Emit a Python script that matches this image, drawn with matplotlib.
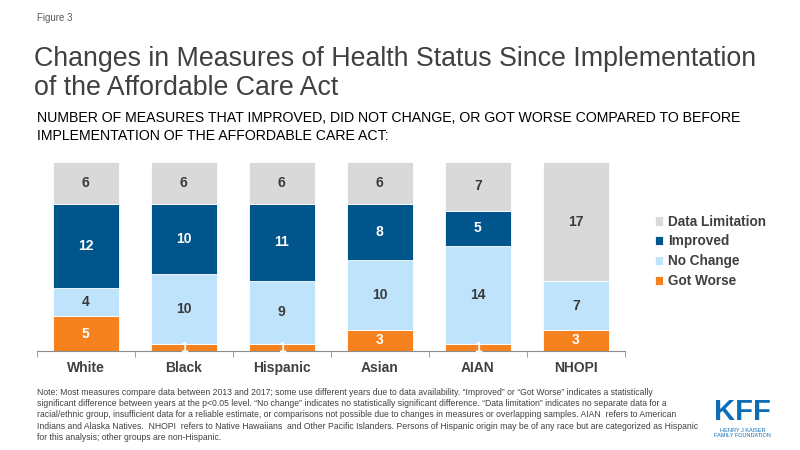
import matplotlib.pyplot as plt
import numpy as np

groups = ["White", "Black", "Hispanic", "Asian", "AIAN", "NHOPI"]
got_worse = [5, 1, 1, 3, 1, 3]
no_change = [4, 10, 9, 10, 14, 7]
improved = [12, 10, 11, 8, 5, 0]
data_limitation = [6, 6, 6, 6, 7, 17]

series = [
    ("Got Worse", got_worse, "#F5821F", "white"),
    ("No Change", no_change, "#BFE3FB", "#3A3A3A"),
    ("Improved", improved, "#00558C", "white"),
    ("Data Limitation", data_limitation, "#D9D9D9", "#3A3A3A"),
]

FONT = "Liberation Sans"

fig = plt.figure(figsize=(8, 4.5), dpi=100)
ax = fig.add_axes([0.046, 0.22, 0.735, 0.42])

x = np.arange(len(groups))
bottom = np.zeros(len(groups))
handles = []
for name, vals, color, tcolor in series:
    vals = np.array(vals, dtype=float)
    b = ax.bar(x, vals, 0.67, bottom=bottom, color=color, edgecolor="white", linewidth=0.6, label=name)
    handles.append(b)
    for xi, v, bt in zip(x, vals, bottom):
        if v > 0:
            ax.text(xi, bt + v / 2, f"{int(v)}", ha="center", va="center", color=tcolor,
                    fontsize=10, fontweight="bold", family=FONT)
    bottom += vals

ax.set_xlim(-0.5, len(groups) - 0.5)
ax.set_ylim(0, 27)
ax.set_yticks([])
for s in ["top", "right", "left"]:
    ax.spines[s].set_visible(False)
ax.spines["bottom"].set_color("#8C8C8C")
ax.set_xticks(x)
ax.set_xticklabels(groups, fontsize=10, fontweight="bold", color="#404040", family=FONT)
ax.tick_params(axis="x", length=0, pad=7)
ax.set_xticks(np.arange(len(groups) + 1) - 0.5, minor=True)
ax.tick_params(axis="x", which="minor", length=4, color="#8C8C8C")

leg = fig.legend(handles[::-1], [h.get_label() for h in handles[::-1]], loc="upper left",
                 bbox_to_anchor=(0.803, 0.55), frameon=False, handlelength=0.65, handleheight=0.65,
                 handletextpad=0.35, labelspacing=0.42,
                 prop={"family": FONT, "weight": "bold", "size": 9.8})
for t in leg.get_texts():
    t.set_color("#404040")

fig.text(0.046, 0.953, "Figure 3", fontsize=7, color="#595959", family=FONT)
fig.text(0.043, 0.853, "Changes in Measures of Health Status Since Implementation",
         fontsize=19.3, color="#404040", family=FONT)
fig.text(0.043, 0.789, "of the Affordable Care Act", fontsize=19.3, color="#404040", family=FONT)
fig.text(0.046, 0.729, "NUMBER OF MEASURES THAT IMPROVED, DID NOT CHANGE, OR GOT WORSE COMPARED TO BEFORE",
         fontsize=10.2, color="black", family=FONT)
fig.text(0.046, 0.689, "IMPLEMENTATION OF THE AFFORDABLE CARE ACT:", fontsize=10.2, color="black", family=FONT)

note = ("Note: Most measures compare data between 2013 and 2017; some use different years due to data availability. \u201cImproved\u201d or \u201cGot Worse\u201d indicates a statistically\n"
        "significant difference between years at the p<0.05 level. \u201cNo change\u201d indicates no statistically significant difference. \u201cData limitation\u201d indicates no separate data for a\n"
        "racial/ethnic group, insufficient data for a reliable estimate, or comparisons not possible due to changes in measures or overlapping samples. AIAN  refers to American\n"
        "Indians and Alaska Natives.  NHOPI  refers to Native Hawaiians  and Other Pacific Islanders. Persons of Hispanic origin may be of any race but are categorized as Hispanic\n"
        "for this analysis; other groups are non-Hispanic.")
fig.text(0.046, 0.138, note, fontsize=6.2, color="#404040", family=FONT, linespacing=1.32, va="top")

fig.text(0.928, 0.066, "KFF", fontsize=21, fontweight="bold", color="#0D6EB8",
         family=FONT, ha="center", va="baseline")
fig.text(0.928, 0.05, "HENRY J KAISER\nFAMILY FOUNDATION", fontsize=4, color="#0D6EB8",
         family=FONT, ha="center", va="top", linespacing=1.1)

fig.savefig("out.png", dpi=100)
